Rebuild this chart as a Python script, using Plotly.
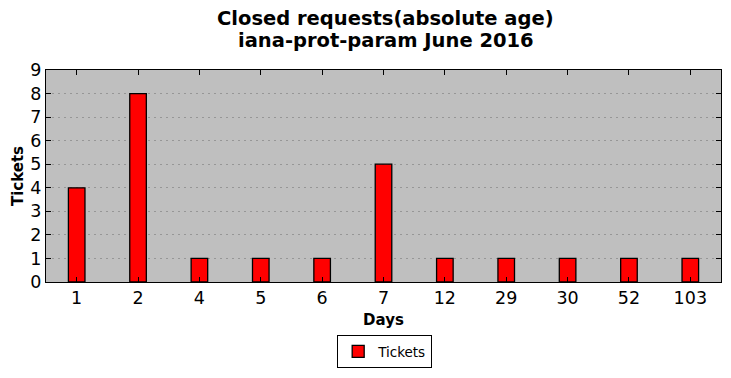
import plotly.graph_objects as go

days = ["1", "2", "4", "5", "6", "7", "12", "29", "30", "52", "103"]
tickets = [4, 8, 1, 1, 1, 5, 1, 1, 1, 1, 1]
y_ticks = list(range(0, 10))
title_lines = ["Closed requests(absolute age)", "iana-prot-param June 2016"]

fig = go.Figure()
fig.add_trace(go.Bar(
    x=days, y=tickets, name="Tickets", width=0.27,
    marker=dict(color="#ff0000", line=dict(color="black", width=1.3)),
    showlegend=True,
))

# page body has an 8px margin, so the figure is sized to fill the rest
W, H = 723, 370
for txt, yy in zip(title_lines, [1.2406, 1.1415]):
    fig.add_annotation(
        text="<b>%s</b>" % txt, xref="paper", yref="paper",
        x=0.503, y=yy, xanchor="center", yanchor="middle", showarrow=False,
        font=dict(size=19.5, family="DejaVu Sans", color="black"),
    )

fig.update_layout(
    width=W, height=H,
    margin=dict(l=38, r=10, t=62, b=96),
    paper_bgcolor="white", plot_bgcolor="#bfbfbf",
    font=dict(family="DejaVu Sans", color="black"),
    xaxis=dict(
        type="category", categoryorder="array", categoryarray=days,
        range=[-0.5, len(days) - 0.5], automargin=False,
        showline=True, linecolor="black", linewidth=1, mirror="ticks",
        ticks="inside", ticklen=5, tickcolor="black",
        showgrid=False, tickfont=dict(size=17.5),
        title=dict(text="<b>Days</b>", font=dict(size=15), standoff=7),
    ),
    yaxis=dict(
        range=[0, 9], tickvals=y_ticks, automargin=False,
        showline=True, linecolor="black", linewidth=1, mirror="ticks",
        ticks="inside", ticklen=5, tickcolor="black",
        showgrid=True, gridcolor="#969696", griddash="2px,4px", gridwidth=1,
        zeroline=False, tickfont=dict(size=17.5),
        title=dict(text="<b>Tickets</b>", font=dict(size=15), standoff=3),
    ),
    legend=dict(
        orientation="h", xref="container", x=0.521, xanchor="center",
        yref="container", y=0.027, yanchor="bottom",
        bordercolor="black", borderwidth=1, bgcolor="white",
        font=dict(size=13.5),
    ),
    bargap=0.7,
)

fig.write_html("out.html")
